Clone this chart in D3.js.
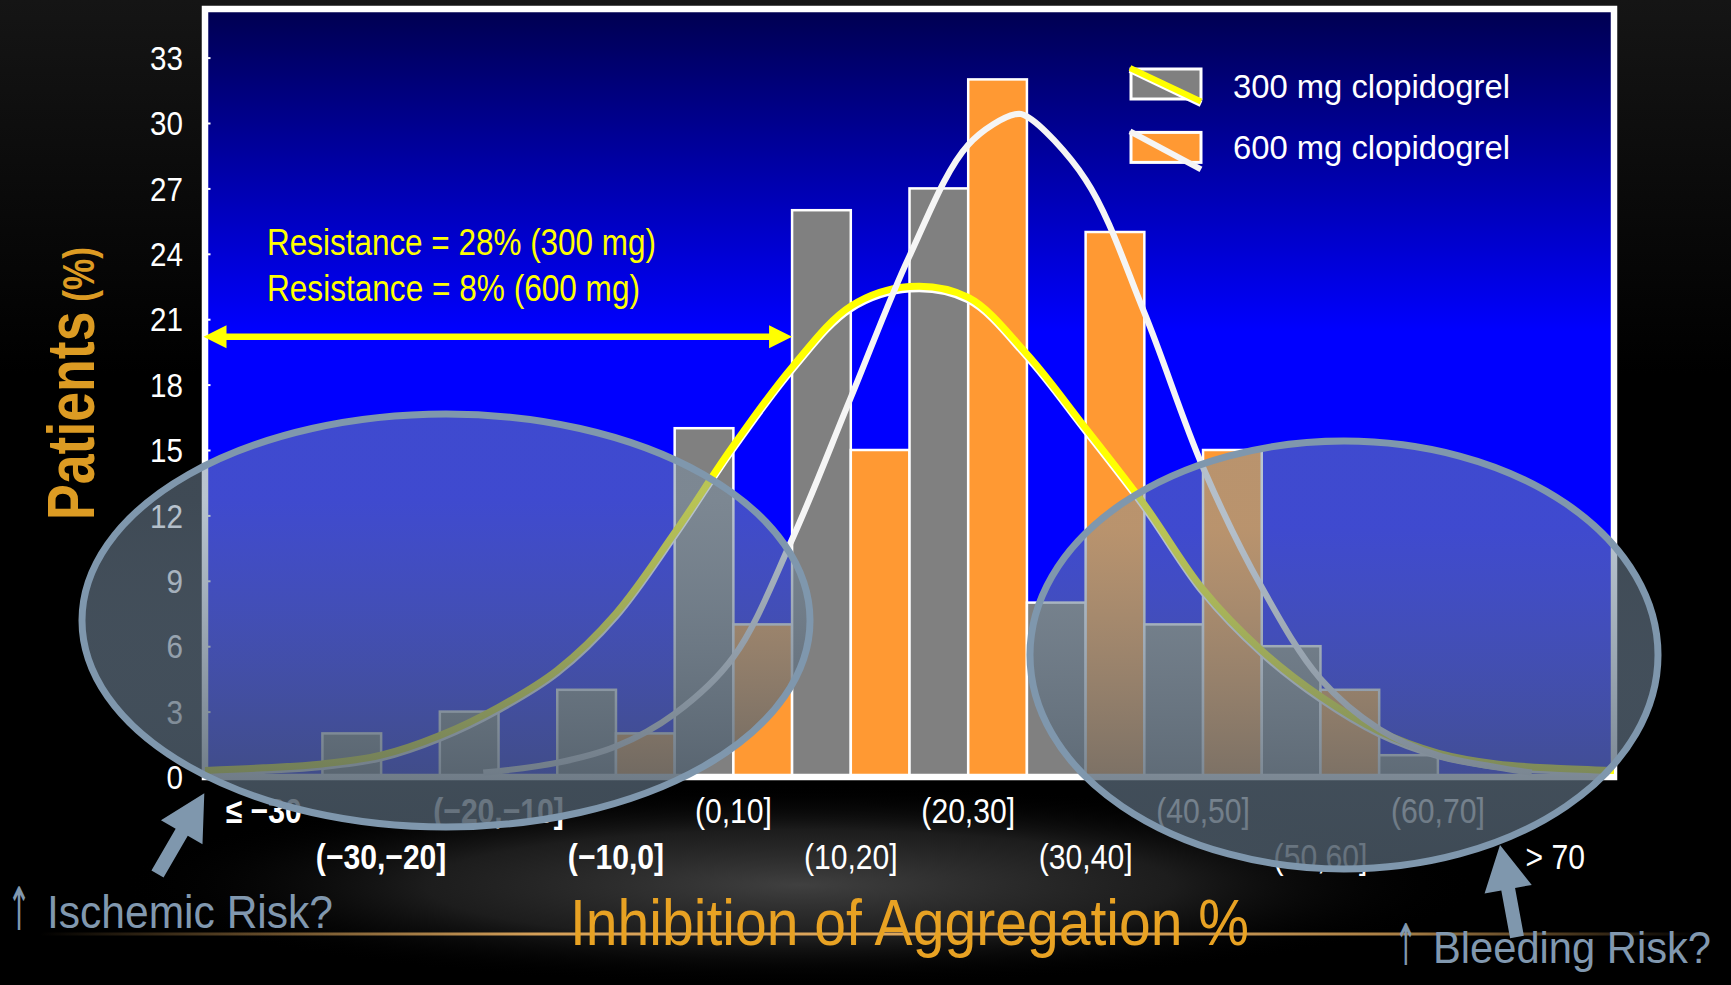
<!DOCTYPE html>
<html>
<head>
<meta charset="utf-8">
<script src="https://cdn.jsdelivr.net/npm/d3@7"></script>
<style>
  html, body { margin: 0; padding: 0; background: #000; overflow: hidden; }
  svg { display: block; }
</style>
</head>
<body>
<svg id="chart" width="1731" height="985"></svg>
<script>
// ---- data ---------------------------------------------------------------
const categories = ["≤ −30", "(−30,−20]", "(−20,−10]", "(−10,0]", "(0,10]", "(10,20]",
                    "(20,30]", "(30,40]", "(40,50]", "(50,60]", "(60,70]", "> 70"];
const seriesNames = ["300 mg clopidogrel", "600 mg clopidogrel"];
const patients300 = [0, 2, 3, 4, 16, 26, 27, 8, 7, 6, 1, 0];
const patients600 = [0, 0, 0, 2, 7, 15, 32, 25, 15, 4, 0, 0];
const yTicks = [0, 3, 6, 9, 12, 15, 18, 21, 24, 27, 30, 33];

// fitted distributions, sampled along the inhibition axis (%)
const fit300X = [-40, -35, -30, -25, -20, -15, -10, -5, 0, 5, 10, 15, 20,
                 25, 30, 35, 40, 45, 50, 55, 60, 65, 70, 75, 80];
const fit300Y = [0.3, 0.42, 0.6, 1.0, 1.9, 3.2, 4.9, 7.5, 11.2, 15.2, 18.8, 21.6, 22.5,
                 22.0, 19.4, 16.0, 12.5, 8.6, 5.8, 3.7, 2.1, 1.1, 0.6, 0.4, 0.3];
const fit600X = [-16.3, -10, -5, 0, 5, 10, 15, 20, 25, 29, 30, 35, 40, 45, 50, 55, 60, 65, 70, 73];
const fit600Y = [0.2, 0.65, 1.4, 2.9, 5.5, 10.9, 17.4, 23.9, 29.0, 30.4, 30.3, 27.4, 21.3,
                 14.2, 8.7, 4.5, 2.2, 1.0, 0.45, 0.2];

const resistanceNotes = ["Resistance = 28% (300 mg)", "Resistance = 8% (600 mg)"];
const resistanceLevel = 20.2;   // patients (%) where the resistance bracket sits
const xTitle = "Inhibition of Aggregation %";
const riskNotes = ["↑ Ischemic Risk?", "↑ Bleeding Risk?"];

// ---- layout -------------------------------------------------------------
const W = 1731, H = 985;
const FONT = "'Liberation Sans', Arial, Helvetica, sans-serif";
const plot = { left: 205, right: 1614, top: 9, bottom: 777 };
const unit = 21.8;                       // px per percentage point
const colors = { c300: "#808080", c600: "#FF9933", fit300: "#FFFF00", fit600: "#F5F5F5",
                 frame: "#FFFFFF", gold: "#E8A223", goldY: "#DC9B23", slate: "#7F97AD",
                 risk: "#8198AF" };

const svg = d3.select("#chart");
const defs = svg.append("defs");

const x = d3.scaleBand().domain(categories).range([plot.left, plot.right]).padding(0);
const xSeries = d3.scaleBand().domain(seriesNames).range([0, x.bandwidth()]).padding(0);
const xLin = d3.scaleLinear().domain([-40, 80]).range([plot.left, plot.right]);
const y = d3.scaleLinear().domain([0, 35]).range([plot.bottom, plot.bottom - 35 * unit]);

// squeeze text horizontally to a narrower set
function squeeze(sel, k) {
  sel.each(function () {
    const w = this.getComputedTextLength();
    this.setAttribute("textLength", w * k);
    this.setAttribute("lengthAdjust", "spacingAndGlyphs");
  });
}
function fitTo(sel, width) {
  sel.attr("textLength", width).attr("lengthAdjust", "spacingAndGlyphs");
}

// ---- gradients ----------------------------------------------------------
const gTop = defs.append("linearGradient").attr("id", "bgTop")
  .attr("x1", 0).attr("y1", 0).attr("x2", 0).attr("y2", 1);
gTop.append("stop").attr("offset", 0).attr("stop-color", "#151515");
gTop.append("stop").attr("offset", 0.38).attr("stop-color", "#000000");

const gGlow = defs.append("radialGradient").attr("id", "bgGlow");
gGlow.append("stop").attr("offset", 0).attr("stop-color", "#404040").attr("stop-opacity", 1);
gGlow.append("stop").attr("offset", 0.55).attr("stop-color", "#262626").attr("stop-opacity", 0.75);
gGlow.append("stop").attr("offset", 1).attr("stop-color", "#000").attr("stop-opacity", 0);

const gStreak = defs.append("linearGradient").attr("id", "streak")
  .attr("gradientUnits", "userSpaceOnUse").attr("x1", 40).attr("x2", 1700).attr("y1", 0).attr("y2", 0);
[[0, 0], [0.12, 0.4], [0.3, 0.95], [0.6, 1], [0.82, 0.75], [1, 0]].forEach(([o, a]) =>
  gStreak.append("stop").attr("offset", o).attr("stop-color", "#E0A85C").attr("stop-opacity", a));

const gPlot = defs.append("linearGradient").attr("id", "plotBg")
  .attr("gradientUnits", "userSpaceOnUse").attr("x1", 0).attr("x2", 0)
  .attr("y1", plot.top + 3).attr("y2", plot.bottom - 3);
gPlot.append("stop").attr("offset", 0).attr("stop-color", "#000052");
gPlot.append("stop").attr("offset", 0.42).attr("stop-color", "#0000FF");
gPlot.append("stop").attr("offset", 1).attr("stop-color", "#0000FF");

const gOval = defs.append("linearGradient").attr("id", "ovalFill")
  .attr("x1", 0).attr("y1", 0).attr("x2", 0).attr("y2", 1);
gOval.append("stop").attr("offset", 0).attr("stop-color", "rgb(121,142,163)").attr("stop-opacity", 0.52);
gOval.append("stop").attr("offset", 0.2).attr("stop-color", "rgb(121,142,163)").attr("stop-opacity", 0.52);
gOval.append("stop").attr("offset", 1).attr("stop-color", "rgb(72,86,99)").attr("stop-opacity", 0.86);

defs.append("filter").attr("id", "soft").attr("x", "-5%").attr("y", "-400%").attr("width", "110%").attr("height", "900%")
  .append("feGaussianBlur").attr("stdDeviation", 3);

// ---- background ---------------------------------------------------------
svg.append("rect").attr("width", W).attr("height", H).attr("fill", "#000");
svg.append("rect").attr("width", W).attr("height", H).attr("fill", "url(#bgTop)");
svg.append("ellipse").attr("cx", 800).attr("cy", 885).attr("rx", 680).attr("ry", 100)
  .attr("fill", "url(#bgGlow)");
svg.append("line").attr("x1", 40).attr("x2", 1700).attr("y1", 934).attr("y2", 934)
  .attr("stroke", "url(#streak)").attr("stroke-width", 9).attr("filter", "url(#soft)");
svg.append("line").attr("x1", 40).attr("x2", 1700).attr("y1", 934).attr("y2", 934)
  .attr("stroke", "url(#streak)").attr("stroke-width", 3);

// ---- plot area ----------------------------------------------------------
svg.append("rect").attr("x", plot.left).attr("y", plot.top)
  .attr("width", plot.right - plot.left).attr("height", plot.bottom - plot.top)
  .attr("fill", "url(#plotBg)");

const barData = categories.flatMap((c, i) => [
  { cat: c, series: seriesNames[0], value: patients300[i], fill: colors.c300 },
  { cat: c, series: seriesNames[1], value: patients600[i], fill: colors.c600 }
]).filter(d => d.value > 0);

svg.append("g").selectAll("rect").data(barData).join("rect")
  .attr("x", d => x(d.cat) + xSeries(d.series))
  .attr("width", xSeries.bandwidth())
  .attr("y", d => y(d.value))
  .attr("height", d => y(0) - y(d.value))
  .attr("fill", d => d.fill)
  .attr("stroke", "#fff").attr("stroke-width", 2.5);

// frame
svg.append("rect").attr("x", plot.left).attr("y", plot.top)
  .attr("width", plot.right - plot.left).attr("height", plot.bottom - plot.top)
  .attr("fill", "none").attr("stroke", colors.frame).attr("stroke-width", 6.5);

// fitted curves
const line = d3.line().x(d => xLin(d[0])).y(d => y(d[1])).curve(d3.curveCatmullRom.alpha(0.5));
const pts300 = fit300X.map((v, i) => [v, fit300Y[i]]);
const pts600 = fit600X.map((v, i) => [v, fit600Y[i]]);
const curves = svg.append("g").attr("fill", "none");
curves.append("path").attr("d", line(pts300)).attr("transform", "translate(0,2.6)")
  .attr("stroke", "#fff").attr("stroke-width", 7);
curves.append("path").attr("d", line(pts300)).attr("stroke", colors.fit300).attr("stroke-width", 7);
curves.append("path").attr("d", line(pts600)).attr("stroke", colors.fit600).attr("stroke-width", 6.2);

// ---- axes ---------------------------------------------------------------
const gy = svg.append("g").attr("transform", `translate(${plot.left},0)`)
  .call(d3.axisLeft(y).tickValues(yTicks).tickSizeInner(-5.5).tickSizeOuter(0).tickPadding(22));
gy.attr("font-family", FONT).attr("font-size", 32.5);
gy.select(".domain").remove();
gy.selectAll(".tick line").attr("stroke", "#fff").attr("stroke-width", 2);
gy.selectAll(".tick text").attr("fill", "#fff").attr("dy", "0.36em");
squeeze(gy.selectAll(".tick text"), 0.91);

const gx = svg.append("g").attr("transform", `translate(0,${plot.bottom})`)
  .call(d3.axisBottom(x).tickSize(0).tickPadding(0));
gx.attr("font-family", FONT).attr("font-size", 35);
gx.select(".domain").remove();
gx.selectAll(".tick text")
  .attr("fill", "#fff")
  .attr("dy", 0)
  .attr("y", (d, i) => (i % 2 === 0 ? 45.5 : 91.5))
  .attr("font-weight", d => (/[−≤]/.test(d) ? "bold" : "normal"));
squeeze(gx.selectAll(".tick text"), 0.86);

// ---- legend -------------------------------------------------------------
const legend = svg.append("g").attr("transform", "translate(1131,69)");
seriesNames.forEach((name, i) => {
  const row = legend.append("g").attr("transform", `translate(0,${i * 63.4})`);
  row.append("rect").attr("width", 70).attr("height", 30)
    .attr("fill", i === 0 ? colors.c300 : colors.c600)
    .attr("stroke", "#fff").attr("stroke-width", 3);
  if (i === 0) {
    row.append("line").attr("x1", -1).attr("y1", 1).attr("x2", 70).attr("y2", 35)
      .attr("stroke", "#fff").attr("stroke-width", 6);
  }
  row.append("line").attr("x1", -1).attr("y1", -1).attr("x2", 70).attr("y2", i === 0 ? 32.5 : 37)
    .attr("stroke", i === 0 ? colors.fit300 : colors.fit600).attr("stroke-width", 6);
  const t = legend.append("text").attr("x", 102).attr("y", 29.3 + i * 60.2)
    .attr("font-family", FONT).attr("font-size", 33.5).attr("fill", "#fff").text(name);
  fitTo(t, 277);
});

// ---- resistance annotation ---------------------------------------------
const noteWidths = [389, 373];
resistanceNotes.forEach((note, i) => {
  const t = svg.append("text").attr("x", 267).attr("y", 255 + i * 45.5)
    .attr("font-family", FONT).attr("font-size", 36).attr("fill", "#FFFF00").text(note);
  fitTo(t, noteWidths[i]);
});

function doubleArrow(x1, x2, yy, shaft, hl, hw) {
  const s = shaft / 2, h = hw / 2;
  return [[x1, yy], [x1 + hl, yy - h], [x1 + hl, yy - s], [x2 - hl, yy - s], [x2 - hl, yy - h],
          [x2, yy], [x2 - hl, yy + h], [x2 - hl, yy + s], [x1 + hl, yy + s], [x1 + hl, yy + h]];
}
svg.append("polygon")
  .attr("points", doubleArrow(x(categories[0]) - 1.5, x(categories[5]), y(resistanceLevel), 6.5, 23, 23).join(" "))
  .attr("fill", "#FFFF00");

// ---- highlighted risk zones ---------------------------------------------
const zones = [
  { cx: 446, cy: 620.5, rx: 364, ry: 206.5 },
  { cx: 1344, cy: 655, rx: 314, ry: 214 }
];
svg.append("g").selectAll("ellipse").data(zones).join("ellipse")
  .attr("cx", d => d.cx).attr("cy", d => d.cy).attr("rx", d => d.rx).attr("ry", d => d.ry)
  .attr("fill", "url(#ovalFill)").attr("stroke", colors.slate).attr("stroke-width", 7);

function arrow(x1, y1, x2, y2, shaft, hl, hw) {
  const L = Math.hypot(x2 - x1, y2 - y1), ux = (x2 - x1) / L, uy = (y2 - y1) / L;
  const px = -uy, py = ux, bx = x2 - ux * hl, by = y2 - uy * hl, s = shaft / 2, h = hw / 2;
  return [[x1 + px * s, y1 + py * s], [bx + px * s, by + py * s], [bx + px * h, by + py * h], [x2, y2],
          [bx - px * h, by - py * h], [bx - px * s, by - py * s], [x1 - px * s, y1 - py * s]];
}
svg.append("polygon").attr("points", arrow(157.5, 874, 204.3, 793.3, 14, 45, 48).join(" "))
  .attr("fill", colors.slate);
svg.append("polygon").attr("points", arrow(1517, 937, 1500, 845, 14, 45, 48).join(" "))
  .attr("fill", colors.slate);

// risk captions: a tall thin arrow glyph followed by the words
const riskPlace = [
  { ax: 19, tx: 47, y: 928, w: 286, size: 46 },
  { ax: 1406, tx: 1433, y: 963, w: 278, size: 44 }
];
riskNotes.forEach((note, i) => {
  const p = riskPlace[i];
  const g = svg.append("g").attr("fill", colors.risk);
  g.append("text").attr("transform", `translate(${p.ax},${p.y + 2}) scale(0.62,1.3)`)
    .attr("text-anchor", "middle").attr("font-family", "'DejaVu Sans', sans-serif")
    .attr("font-size", p.size).text(note.slice(0, 1));
  const t = g.append("text").attr("x", p.tx).attr("y", p.y).attr("font-size", p.size)
    .attr("font-family", FONT).text(note.slice(1).trim());
  fitTo(t, p.w);
});

// ---- axis titles --------------------------------------------------------
const xt = svg.append("text").attr("x", 570).attr("y", 945)
  .attr("font-family", FONT).attr("font-size", 64).attr("fill", colors.gold).text(xTitle);
fitTo(xt, 679);

const yt = svg.append("text").attr("transform", "translate(94,383.5) rotate(-90)")
  .attr("text-anchor", "middle").attr("font-family", FONT).attr("font-weight", "bold")
  .attr("fill", colors.goldY);
yt.append("tspan").attr("font-size", 67).text("Patients");
yt.append("tspan").attr("font-size", 44).text(" (%)");
squeeze(yt, 0.8);
</script>
</body>
</html>
